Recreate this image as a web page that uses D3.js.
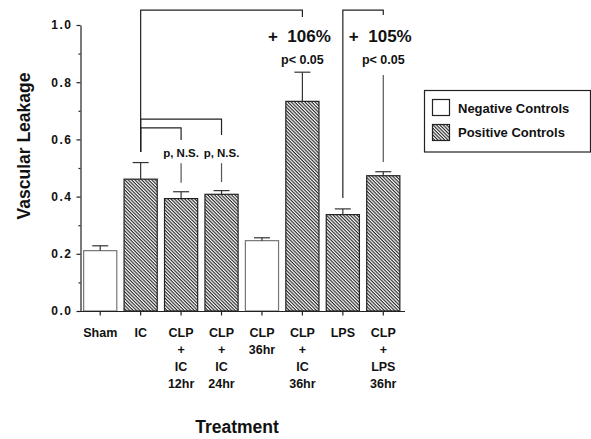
<!DOCTYPE html>
<html>
<head>
<meta charset="utf-8">
<script src="https://cdn.jsdelivr.net/npm/d3@7"></script>
<style>
  body { margin: 0; background: #fff; }
  svg text { font-family: "Liberation Sans", Arial, Helvetica, sans-serif; font-weight: bold; fill: #111; }
</style>
</head>
<body>
<svg id="chart"></svg>
<script>
const width = 591, height = 439;

// treatment groups (multi-line tick labels)
const categories = [
    ["Sham"], ["IC"], ["CLP", "+", "IC", "12hr"], ["CLP", "+", "IC", "24hr"],
    ["CLP", "36hr"], ["CLP", "+", "IC", "36hr"], ["LPS"], ["CLP", "+", "LPS", "36hr"]
];
const means  = [0.211, 0.461, 0.393, 0.408, 0.246, 0.733, 0.337, 0.473];
const errors = [0.017, 0.058, 0.024, 0.013, 0.010, 0.102, 0.020, 0.014];
const groups = ["neg", "pos", "pos", "pos", "neg", "pos", "pos", "pos"];
const yTicks = [0, 0.2, 0.4, 0.6, 0.8, 1.0];
const yMinorTicks = [0.1, 0.3, 0.5, 0.7, 0.9];

// comparison brackets: [from index, to index, level, from-leg bottom, to-leg bottom]
const brackets = [
    [1, 5, 1.052, 0.556, 1.028],
    [1, 3, 0.671, 0.556, 0.615],
    [1, 2, 0.640, 0.556, 0.598],
    [6, 7, 1.052, 0.395, 1.035]
];
// dangling lines below annotations: [index, top, bottom]
const stubs = [[3, 0.517, 0.451], [2, 0.517, 0.448], [7, 0.825, 0.521]];
// annotations: [index, text, level, kind]
const notes = [
    [5, "+  106%", 0.941, "big"], [5, "p< 0.05", 0.864, "small"],
    [7, "+  105%", 0.941, "big"], [7, "p< 0.05", 0.864, "small"],
    [2, "p, N.S.", 0.540, "ns"], [3, "p, N.S.", 0.540, "ns"]
];
const legendItems = [["neg", "Negative Controls"], ["pos", "Positive Controls"]];

const svg = d3.select("#chart").attr("width", width).attr("height", height);

const defs = svg.append("defs");
const pat = defs.append("pattern")
    .attr("id", "hatch")
    .attr("patternUnits", "userSpaceOnUse")
    .attr("width", 2.4).attr("height", 2.4)
    .attr("patternTransform", "rotate(45)");
pat.append("rect").attr("width", 2.4).attr("height", 2.4).attr("fill", "#fff");
pat.append("line").attr("x1", 0).attr("y1", 0.6).attr("x2", 2.4).attr("y2", 0.6)
    .attr("stroke", "#111").attr("stroke-width", 1.05);

const x = d3.scaleBand()
    .domain(d3.range(categories.length))
    .range([80, 403.5])
    .paddingInner(0.18)
    .paddingOuter(0.09);

const y = d3.scaleLinear().domain([0, 1]).range([311, 25]);

const cx = i => x(i) + x.bandwidth() / 2;

// bars
svg.append("g").selectAll("rect")
    .data(means)
    .join("rect")
    .attr("x", (d, i) => x(i))
    .attr("y", d => y(d))
    .attr("width", x.bandwidth())
    .attr("height", d => y(0) - y(d))
    .attr("fill", (d, i) => groups[i] === "pos" ? "url(#hatch)" : "#fff")
    .attr("stroke", (d, i) => groups[i] === "pos" ? "#222" : "#777")
    .attr("stroke-width", 1.2);

// error bars (upper only)
const eb = svg.append("g").attr("stroke", "#333").attr("stroke-width", 1.2);
eb.selectAll("line.v").data(means).join("line").attr("class", "v")
    .attr("x1", (d, i) => cx(i)).attr("x2", (d, i) => cx(i))
    .attr("y1", d => y(d)).attr("y2", (d, i) => y(d + errors[i]));
eb.selectAll("line.c").data(means).join("line").attr("class", "c")
    .attr("x1", (d, i) => cx(i) - 8).attr("x2", (d, i) => cx(i) + 8)
    .attr("y1", (d, i) => y(d + errors[i])).attr("y2", (d, i) => y(d + errors[i]));

// axes
const yAxis = svg.append("g")
    .attr("transform", "translate(80.5,0)")
    .call(d3.axisLeft(y).tickValues(yTicks).tickFormat(d3.format(".1f")).tickSize(4).tickSizeOuter(0).tickPadding(4));
yAxis.selectAll("text").style("font-size", "12px").style("letter-spacing", "1.5px");
svg.append("g")
    .attr("transform", "translate(80.5,0)")
    .call(d3.axisLeft(y).tickValues(yMinorTicks).tickFormat("").tickSize(2).tickSizeOuter(0))
    .select(".domain").remove();

const xAxis = svg.append("g")
    .attr("transform", "translate(0,311.5)")
    .call(d3.axisBottom(x).tickSize(4).tickSizeOuter(0).tickFormat(""));
xAxis.select(".domain").attr("d", "M80,0H405");
xAxis.selectAll(".tick").each(function(d) {
    const t = d3.select(this).append("text")
        .attr("fill", "#111")
        .attr("text-anchor", "middle")
        .style("font-size", "12.5px");
    categories[d].forEach((line, k) => {
        t.append("tspan").attr("x", 0).attr("y", 25 + k * 17).text(line);
    });
});
svg.selectAll(".domain, .tick line").attr("stroke", "#222").attr("stroke-width", 1.2);

// brackets
const br = svg.append("g").attr("fill", "none").attr("stroke", "#222").attr("stroke-width", 1.2);
br.selectAll("path.b").data(brackets).join("path").attr("class", "b")
    .attr("d", d => `M${cx(d[0])},${y(d[3])}V${y(d[2])}H${cx(d[1])}V${y(d[4])}`);
br.selectAll("line.s").data(stubs).join("line").attr("class", "s")
    .attr("stroke", "#555")
    .attr("x1", d => cx(d[0])).attr("x2", d => cx(d[0]))
    .attr("y1", d => y(d[1])).attr("y2", d => y(d[2]));

// annotations
const sizes = { big: "17px", small: "12.5px", ns: "11.5px" };
svg.append("g").selectAll("text").data(notes).join("text")
    .attr("x", d => cx(d[0]) - (d[3] === "big" ? 3 : 0))
    .attr("y", d => y(d[2]))
    .attr("text-anchor", "middle")
    .style("white-space", "pre")
    .style("font-size", d => sizes[d[3]])
    .text(d => d[1]);

// axis titles
svg.append("text")
    .attr("transform", "translate(30,146) rotate(-90)")
    .attr("text-anchor", "middle")
    .style("font-size", "17.5px")
    .text("Vascular Leakage");
svg.append("text")
    .attr("x", 237).attr("y", 433)
    .attr("text-anchor", "middle")
    .style("font-size", "17.5px")
    .text("Treatment");

// legend
const lg = svg.append("g");
lg.append("rect").attr("x", 424.5).attr("y", 90.5).attr("width", 166).attr("height", 61.5)
    .attr("fill", "#fff").attr("stroke", "#222").attr("stroke-width", 1.2);
legendItems.forEach(([g, label], k) => {
    lg.append("rect")
        .attr("x", 432.5).attr("y", 99.5 + k * 25).attr("width", 17).attr("height", 16)
        .attr("fill", g === "pos" ? "url(#hatch)" : "#fff")
        .attr("stroke", "#222").attr("stroke-width", 1.2);
    lg.append("text").attr("x", 458).attr("y", 112.5 + k * 24.5)
        .style("font-size", "13px").text(label);
});
</script>
</body>
</html>
